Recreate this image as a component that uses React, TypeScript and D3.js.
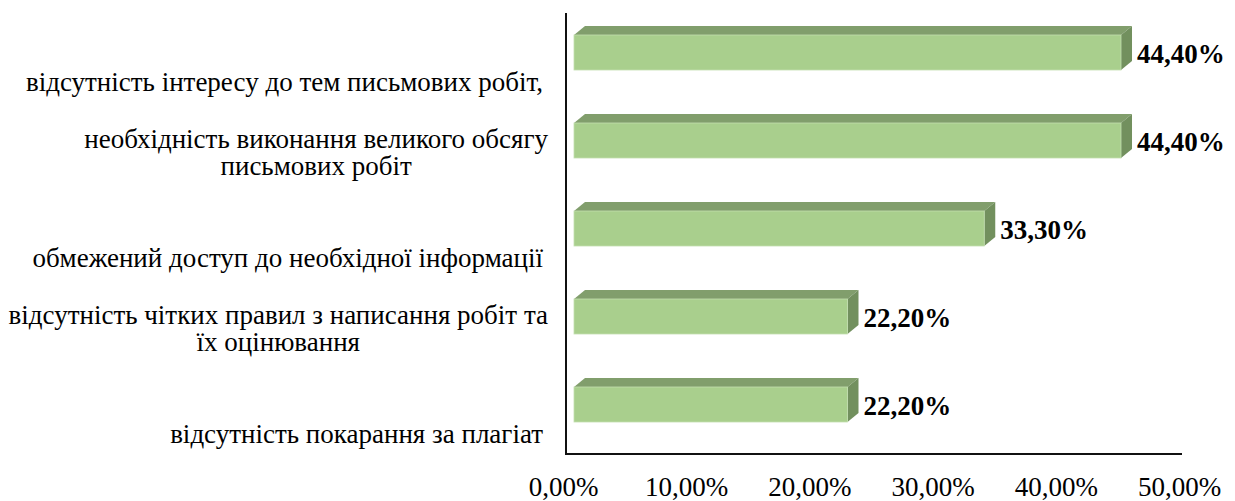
import React, { useEffect, useRef } from 'react';
import * as d3 from 'd3';

// categories, top to bottom (multi-line labels split as in the picture)
const categoryLines: string[][] = [
    ['відсутність інтересу до тем письмових робіт,'],
    ['необхідність виконання великого обсягу', 'письмових робіт'],
    ['обмежений доступ до необхідної інформації'],
    ['відсутність чітких правил з написання робіт та', 'їх оцінювання'],
    ['відсутність покарання за плагіат'],
];
const values = [0.444, 0.444, 0.333, 0.222, 0.222];
const valueLabels = ['44,40%', '44,40%', '33,30%', '22,20%', '22,20%'];
const tickValues = [0, 0.1, 0.2, 0.3, 0.4, 0.5];
const tickLabels = ['0,00%', '10,00%', '20,00%', '30,00%', '40,00%', '50,00%'];

const W = 1235;
const H = 501;
const FONT = "'Liberation Serif', 'Times New Roman', 'DejaVu Serif', serif";

const App = () => {
    const svgRef = useRef<SVGSVGElement>(null);

    useEffect(() => {
        const svg = d3.select(svgRef.current);
        svg.selectAll('*').remove();

        const x = d3.scaleLinear().domain([0, 0.5]).range([566, 1182]);
        const ids = categoryLines.map((_, i) => i);
        const y = d3.scaleBand<number>()
            .domain(ids)
            .range([4, 444])
            .paddingInner(0.5)
            .paddingOuter(0.25);

        // 3d depth of the bars
        const dx = 11;
        const dy = 9;
        const shift = 8; // front face sits a bit right of the wall
        const frontH = y.bandwidth() - dy;

        const frontColor = '#a9cf8d';
        const topColor = '#819e6c';
        const sideColor = '#72905e';

        svg.append('rect').attr('width', W).attr('height', H).attr('fill', '#fff');

        // axes lines
        svg.append('line')
            .attr('x1', x(0)).attr('x2', x(0))
            .attr('y1', 13).attr('y2', 455)
            .attr('stroke', '#111').attr('stroke-width', 2);
        svg.append('line')
            .attr('x1', x(0) - 1).attr('x2', x(0.5))
            .attr('y1', 454).attr('y2', 454)
            .attr('stroke', '#111').attr('stroke-width', 2);

        const bars = svg.append('g');
        values.forEach((v, i) => {
            const x0 = x(0) + shift;
            const x1 = x(v) + shift;
            const yTop = (y(i) as number) + dy;
            const yBot = yTop + frontH;
            const g = bars.append('g');
            g.append('path')
                .attr('d', `M${x0},${yTop}L${x0 + dx},${yTop - dy}L${x1 + dx},${yTop - dy}L${x1},${yTop}Z`)
                .attr('fill', topColor);
            g.append('path')
                .attr('d', `M${x1},${yTop}L${x1 + dx},${yTop - dy}L${x1 + dx},${yBot - dy}L${x1},${yBot}Z`)
                .attr('fill', sideColor);
            g.append('rect')
                .attr('x', x0).attr('y', yTop)
                .attr('width', x1 - x0).attr('height', frontH)
                .attr('fill', frontColor)
                .attr('stroke', '#c3dfb0').attr('stroke-width', 0.8);

            g.append('text')
                .attr('x', x1 + dx + 5)
                .attr('y', yTop + frontH / 2 + 10)
                .style('font-family', FONT)
                .style('font-size', '27px')
                .style('font-weight', 'bold')
                .attr('fill', '#000')
                .text(valueLabels[i]);
        });

        // category labels
        const labels = svg.append('g')
            .style('font-family', FONT)
            .style('font-size', '27px')
            .attr('fill', '#000');
        categoryLines.forEach((lines, i) => {
            const mid = (y(i) as number) + dy + frontH / 2;
            if (lines.length === 1) {
                labels.append('text')
                    .attr('x', 543)
                    .attr('y', mid + 38.5)
                    .attr('text-anchor', 'end')
                    .text(lines[0]);
            } else {
                const first = labels.append('text')
                    .attr('x', 548)
                    .attr('y', mid + 7.5)
                    .attr('text-anchor', 'end')
                    .text(lines[0]);
                const w = (first.node() as SVGTextElement).getComputedTextLength();
                labels.append('text')
                    .attr('x', 548 - w / 2)
                    .attr('y', mid + 7.5 + 26.5)
                    .attr('text-anchor', 'middle')
                    .text(lines[1]);
            }
        });

        // x tick labels
        svg.append('g')
            .style('font-family', FONT)
            .style('font-size', '27px')
            .attr('fill', '#000')
            .selectAll('text')
            .data(tickValues)
            .join('text')
            .attr('x', d => x(d) - 2.5)
            .attr('y', 496)
            .attr('text-anchor', 'middle')
            .text((_, i) => tickLabels[i]);
    }, []);

    return (
        <svg
            ref={svgRef}
            width={W}
            height={H}
            style={{ position: 'absolute', left: 0, top: 0, display: 'block' }}
        />
    );
};

export default App;
